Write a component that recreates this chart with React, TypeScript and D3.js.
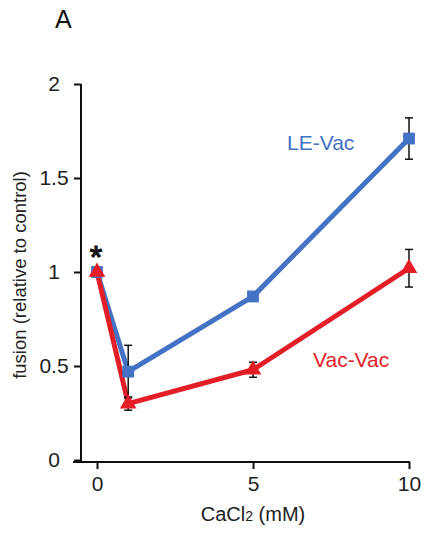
import React, { useRef, useEffect } from "react";
import * as d3 from "d3";

// CaCl2 concentrations (mM)
const concentrations = [0, 1, 5, 10];
// LE-Vac fusion (relative to control) and error
const leVac = [1.0, 0.47, 0.87, 1.71];
const leVacErr = [0, 0.14, 0, 0.11];
// Vac-Vac fusion and error
const vacVac = [1.0, 0.3, 0.48, 1.02];
const vacVacErr = [0, 0.035, 0.04, 0.1];
const yTicks = [0, 0.5, 1, 1.5, 2];
const xTicks = [0, 5, 10];

const BLUE = "#4472c4";
const RED = "#e41e26";
const FONT = "Arial, 'Liberation Sans', sans-serif";

export default function App() {
  const ref = useRef<SVGSVGElement>(null);

  useEffect(() => {
    const svg = d3.select(ref.current);
    svg.selectAll("*").remove();

    const x = d3.scaleLinear().domain([0, 10]).range([97, 409]);
    const y = d3.scaleLinear().domain([0, 2]).range([460, 84]);

    // panel letter
    svg
      .append("text")
      .attr("x", 55)
      .attr("y", 28)
      .attr("font-family", FONT)
      .attr("font-size", 25)
      .attr("fill", "#111")
      .text("A");

    // y axis
    const yAxis = svg.append("g").attr("transform", "translate(81,0)");
    yAxis
      .call(d3.axisLeft(y).tickValues(yTicks).tickSize(7).tickSizeOuter(0).tickFormat(d3.format("~g")))
      .call(g => g.select(".domain").remove());
    yAxis.selectAll(".tick line").attr("stroke", "#111").attr("stroke-width", 2);
    yAxis
      .selectAll(".tick text")
      .attr("x", -27)
      .attr("text-anchor", "middle")
      .attr("font-family", FONT)
      .attr("font-size", 21)
      .attr("fill", "#222");
    yAxis
      .append("line")
      .attr("y1", y(2))
      .attr("y2", 462)
      .attr("stroke", "#111")
      .attr("stroke-width", 2);

    // x axis
    const xAxis = svg.append("g").attr("transform", "translate(0,462)");
    xAxis
      .call(d3.axisBottom(x).tickValues(xTicks).tickSize(7).tickSizeOuter(0))
      .call(g => g.select(".domain").remove());
    xAxis.selectAll(".tick line").attr("stroke", "#111").attr("stroke-width", 2);
    xAxis
      .selectAll(".tick text")
      .attr("y", 14)
      .attr("font-family", FONT)
      .attr("font-size", 21)
      .attr("fill", "#222");
    xAxis
      .append("line")
      .attr("x1", 73)
      .attr("x2", x(10) + 1)
      .attr("stroke", "#111")
      .attr("stroke-width", 2);

    // axis titles
    const xt = svg
      .append("text")
      .attr("x", 253)
      .attr("y", 521)
      .attr("text-anchor", "middle")
      .attr("font-family", FONT)
      .attr("font-size", 20)
      .attr("fill", "#222");
    xt.append("tspan").text("CaCl");
    xt.append("tspan").attr("font-size", 14).text("2");
    xt.append("tspan").text(" (mM)");

    svg
      .append("text")
      .attr("transform", "translate(26,275) rotate(-90)")
      .attr("text-anchor", "middle")
      .attr("font-family", FONT)
      .attr("font-size", 18.5)
      .attr("fill", "#222")
      .text("fusion (relative to control)");

    const line = d3
      .line<number>()
      .x((_, i) => x(concentrations[i]))
      .y(d => y(d));

    const series = [
      { values: leVac, err: leVacErr, color: BLUE, symbol: d3.symbolSquare, size: 140 },
      { values: vacVac, err: vacVacErr, color: RED, symbol: d3.symbolTriangle, size: 120 }
    ];

    // lines
    series.forEach(s => {
      svg
        .append("path")
        .attr("d", line(s.values))
        .attr("fill", "none")
        .attr("stroke", s.color)
        .attr("stroke-width", 5)
        .attr("stroke-linejoin", "round");
    });

    // error bars
    series.forEach(s => {
      s.values.forEach((v, i) => {
        const e = s.err[i];
        if (!e) return;
        const cx = x(concentrations[i]);
        const g = svg.append("g").attr("stroke", "#111").attr("stroke-width", 1.5);
        g.append("line").attr("x1", cx).attr("x2", cx).attr("y1", y(v - e)).attr("y2", y(v + e));
        [v - e, v + e].forEach(b =>
          g.append("line").attr("x1", cx - 4).attr("x2", cx + 4).attr("y1", y(b)).attr("y2", y(b))
        );
      });
    });

    // markers
    series.forEach(s => {
      svg
        .append("g")
        .selectAll("path")
        .data(s.values)
        .join("path")
        .attr("transform", (d, i) => `translate(${x(concentrations[i])},${y(d)})`)
        .attr("d", d3.symbol().type(s.symbol).size(s.size)())
        .attr("fill", s.color);
    });

    // significance star
    svg
      .append("text")
      .attr("x", x(0) - 1)
      .attr("y", 268)
      .attr("text-anchor", "middle")
      .attr("font-family", FONT)
      .attr("font-size", 32)
      .attr("fill", "#111")
      .attr("stroke", "#111")
      .attr("stroke-width", 1.2)
      .text("*");

    // series labels
    svg
      .append("text")
      .attr("x", 287)
      .attr("y", 150)
      .attr("font-family", FONT)
      .attr("font-size", 21)
      .attr("fill", BLUE)
      .text("LE-Vac");
    svg
      .append("text")
      .attr("x", 313)
      .attr("y", 367)
      .attr("font-family", FONT)
      .attr("font-size", 21)
      .attr("fill", RED)
      .text("Vac-Vac");
  }, []);

  return (
    <svg
      ref={ref}
      width={428}
      height={534}
      style={{ position: "absolute", left: 0, top: 0, background: "#fff" }}
    />
  );
}
